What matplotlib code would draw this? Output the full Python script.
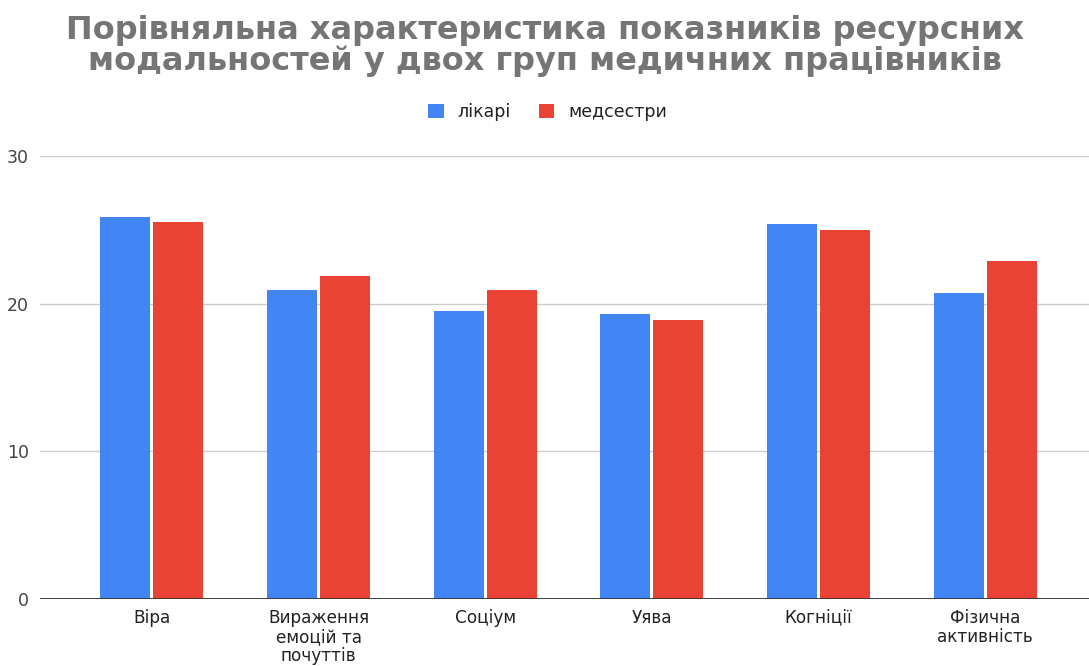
import matplotlib.pyplot as plt
import numpy as np

plt.rcParams['font.family'] = ['DejaVu Sans']

categories = ['Віра', 'Вираження\nемоцій та\nпочуттів', 'Соціум', 'Уява', 'Когніції', 'Фізична\nактивність']
doctors = [25.9, 20.9, 19.5, 19.3, 25.4, 20.7]
nurses = [25.5, 21.9, 20.9, 18.9, 25.0, 22.9]
series_names = ['лікарі', 'медсестри']
yticks = [0, 10, 20, 30]

blue = '#4285F4'
red = '#EA4335'

fig = plt.figure(figsize=(10.89, 6.66), dpi=100)
ax = fig.add_axes([40 / 1089, 67 / 666, 1049 / 1089, 443 / 666])

x = np.arange(len(categories))
w = 0.30
ax.bar(x - 0.159, doctors, w, color=blue, label=series_names[0], zorder=3)
ax.bar(x + 0.159, nurses, w, color=red, label=series_names[1], zorder=3)

ax.set_xlim(-0.672, 5.624)
ax.set_ylim(0, 30)
ax.set_yticks(yticks)
ax.yaxis.grid(True, color='#cccccc', linewidth=1, zorder=0)
ax.axhline(0, color='#333333', linewidth=1.3, zorder=4)
for s in ax.spines.values():
    s.set_visible(False)
ax.tick_params(axis='both', length=0)
ax.tick_params(axis='y', labelsize=12.5, labelcolor='#444444', pad=8)
ax.set_xticks(x)
ax.set_xticklabels(categories, fontsize=12.2, color='#222222', linespacing=1.08, va='top')
ax.tick_params(axis='x', pad=7)

fig.text(0.5, 0.978, 'Порівняльна характеристика показників ресурсних\nмодальностей у двох груп медичних працівників',
         ha='center', va='top', fontsize=23, fontweight='bold', color='#757575', linespacing=1.0)

fig.legend(loc='center', bbox_to_anchor=(0.503, 0.832), ncol=2, frameon=False,
           fontsize=12.5, handlelength=0.9, handleheight=0.9, columnspacing=1.6,
           handletextpad=0.8, labelcolor='#222222')

fig.savefig('out.png', dpi=100)
